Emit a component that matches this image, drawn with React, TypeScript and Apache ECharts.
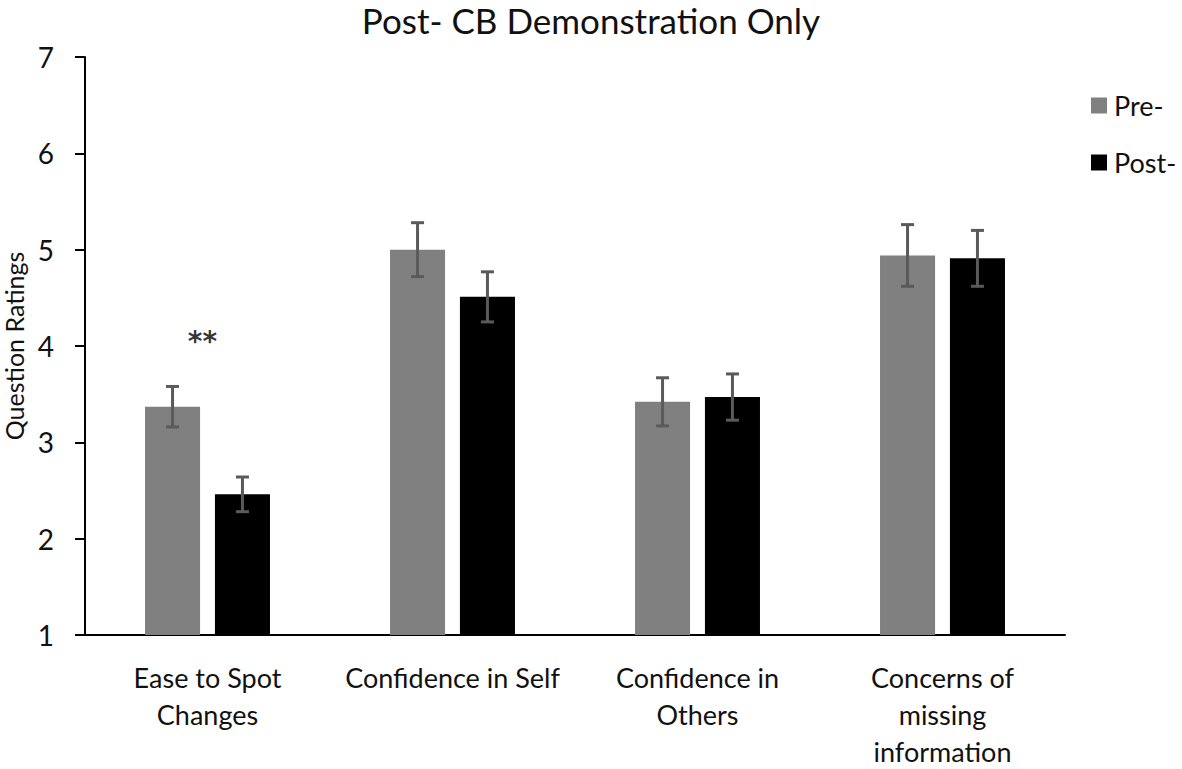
import React, { useEffect, useRef } from "react";
import * as echarts from "echarts";

const categories = [
  "Ease to Spot\nChanges",
  "Confidence in Self",
  "Confidence in\nOthers",
  "Concerns of\nmissing\ninformation",
];
const preValues = [3.37, 5.0, 3.42, 4.94];
const postValues = [2.46, 4.51, 3.47, 4.91];
const preErr = [0.21, 0.28, 0.25, 0.32];
const postErr = [0.18, 0.26, 0.24, 0.29];
const yTicks = [1, 2, 3, 4, 5, 6, 7];
const sigMarks = [{ cat: 0, value: 4.09, text: "**" }];

const FONT = "Lato";
const CAT_GAP = 0.49;
const BAR_GAP = 0.27;

export default function App() {
  const ref = useRef<HTMLDivElement>(null);
  useEffect(() => {
    document.body.style.margin = "0";
    const chart = echarts.init(ref.current!, null, { renderer: "svg" });
    const errRender = (sign: number) => (params: any, api: any) => {
      const x = api.value(0);
      const lo = api.value(1);
      const hi = api.value(2);
      const band = api.size([1, 0])[0];
      const groupW = band * (1 - CAT_GAP);
      const barW = groupW / (2 + BAR_GAP);
      const off = ((barW + barW * BAR_GAP) / 2) * sign;
      const pLo = api.coord([x, lo]);
      const pHi = api.coord([x, hi]);
      const cx = pLo[0] + off;
      const cap = 6.5;
      const style = { stroke: "#5a5a5a", lineWidth: 3 };
      return {
        type: "group",
        children: [
          { type: "line", shape: { x1: cx, y1: pLo[1], x2: cx, y2: pHi[1] }, style },
          { type: "line", shape: { x1: cx - cap, y1: pLo[1], x2: cx + cap, y2: pLo[1] }, style },
          { type: "line", shape: { x1: cx - cap, y1: pHi[1], x2: cx + cap, y2: pHi[1] }, style },
        ],
      };
    };
    chart.setOption({
      animation: false,
      textStyle: { fontFamily: FONT },
      title: {
        text: "Post- CB Demonstration Only",
        left: "center",
        top: 2,
        padding: 0,
        textStyle: { fontFamily: FONT, fontSize: 35, fontWeight: "normal", color: "#111" },
      },
      legend: {
        orient: "vertical",
        left: 1086,
        top: 87,
        itemWidth: 16,
        itemHeight: 16,
        itemGap: 30,
        icon: "rect",
        data: ["Pre-", "Post-"],
        textStyle: { fontFamily: FONT, fontSize: 27, color: "#111", padding: [0, 0, 0, 2] },
      },
      grid: { left: 85, right: 117, top: 57, bottom: 134, outerBoundsMode: "none", containLabel: false },
      xAxis: {
        type: "category",
        data: categories,
        axisLine: { lineStyle: { color: "#000", width: 2 } },
        axisTick: { show: false },
        axisLabel: {
          fontFamily: FONT,
          fontSize: 27,
          color: "#111",
          lineHeight: 37,
          margin: 24,
          interval: 0,
        },
      },
      yAxis: {
        type: "value",
        min: 1,
        max: 7,
        interval: 1,
        name: "Question Ratings",
        nameLocation: "middle",
        nameGap: 58,
        nameTextStyle: { fontFamily: FONT, fontSize: 25, color: "#111" },
        splitLine: { show: false },
        axisLine: { show: true, lineStyle: { color: "#000", width: 2 } },
        axisTick: { show: true, length: 10, lineStyle: { color: "#000", width: 2 } },
        axisLabel: {
          fontFamily: FONT,
          fontSize: 28,
          color: "#111",
          margin: 31,
          formatter: (v: number) => (yTicks.includes(v) ? String(v) : ""),
        },
      },
      series: [
        {
          name: "Pre-",
          type: "bar",
          data: preValues,
          barGap: `${BAR_GAP * 100}%`,
          barCategoryGap: `${CAT_GAP * 100}%`,
          itemStyle: { color: "#808080" },
        },
        {
          name: "Post-",
          type: "bar",
          data: postValues,
          barGap: `${BAR_GAP * 100}%`,
          barCategoryGap: `${CAT_GAP * 100}%`,
          itemStyle: { color: "#000000" },
        },
        {
          name: "preErr",
          type: "custom",
          renderItem: errRender(-1),
          data: preValues.map((v, i) => [i, v - preErr[i], v + preErr[i]]),
          encode: { x: 0, y: [1, 2] },
          z: 5,
        },
        {
          name: "postErr",
          type: "custom",
          renderItem: errRender(1),
          data: postValues.map((v, i) => [i, v - postErr[i], v + postErr[i]]),
          encode: { x: 0, y: [1, 2] },
          z: 5,
        },
        {
          name: "sig",
          type: "scatter",
          symbolSize: 0,
          data: sigMarks.map((m) => [m.cat, m.value, m.text]),
          label: {
            show: true,
            position: "inside",
            offset: [-5, 4],
            formatter: (p: any) => p.data[2],
            fontFamily: "DejaVu Sans",
            fontSize: 28,
            fontWeight: "bold",
            color: "#000",
          },
          z: 6,
        },
      ],
    });
    return () => chart.dispose();
  }, []);
  return <div ref={ref} style={{ width: 1182, height: 769 }} />;
}
